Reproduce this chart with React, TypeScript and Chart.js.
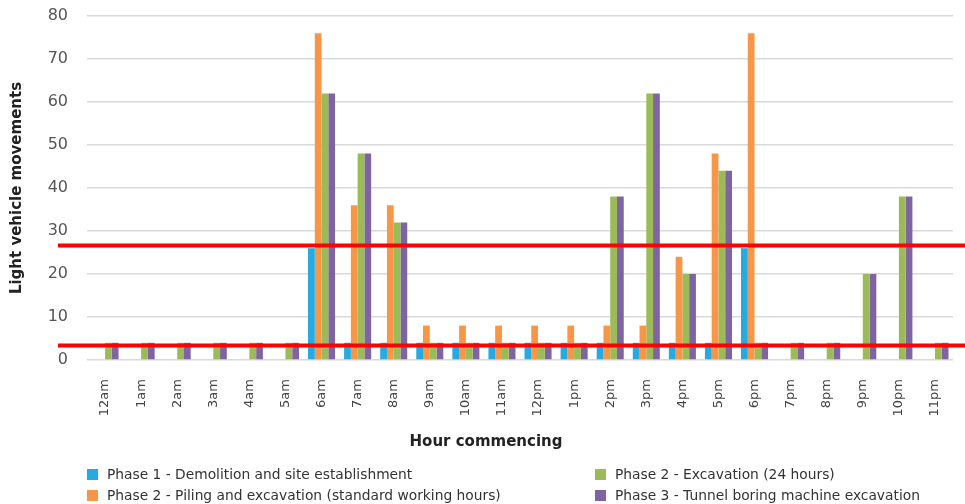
import React, { useEffect, useRef } from "react";
import { Chart, registerables } from "chart.js";

Chart.register(...registerables);

const HOURS = [
  "12am", "1am", "2am", "3am", "4am", "5am", "6am", "7am", "8am", "9am", "10am", "11am",
  "12pm", "1pm", "2pm", "3pm", "4pm", "5pm", "6pm", "7pm", "8pm", "9pm", "10pm", "11pm",
];

const PHASE1_DEMOLITION = [0, 0, 0, 0, 0, 0, 26, 4, 4, 4, 4, 4, 4, 4, 4, 4, 4, 4, 26, 0, 0, 0, 0, 0];
const PHASE2_PILING = [0, 0, 0, 0, 0, 0, 76, 36, 36, 8, 8, 8, 8, 8, 8, 8, 24, 48, 76, 0, 0, 0, 0, 0];
const PHASE2_EXCAVATION = [4, 4, 4, 4, 4, 4, 62, 48, 32, 4, 4, 4, 4, 4, 38, 62, 20, 44, 4, 4, 4, 20, 38, 4];
const PHASE3_TBM = [4, 4, 4, 4, 4, 4, 62, 48, 32, 4, 4, 4, 4, 4, 38, 62, 20, 44, 4, 4, 4, 20, 38, 4];

const SERIES_LABELS = [
  "Phase 1 - Demolition and site establishment",
  "Phase 2 - Piling and excavation (standard working hours)",
  "Phase 2 - Excavation (24 hours)",
  "Phase 3 - Tunnel boring machine excavation",
];
const SERIES_COLORS = ["#25aae1", "#f79646", "#9bbb59", "#8064a2"];

const Y_TICKS_MIN = 0;
const Y_TICKS_MAX = 80;
const Y_STEP = 10;

// red horizontal marker lines (data values)
const RED_LINE_VALUES = [26.6, 3.4];

const FONT = "'DejaVu Sans', sans-serif";

const redLinesPlugin = {
  id: "redLines",
  afterDatasetsDraw(chart: any) {
    const { ctx } = chart;
    const y = chart.scales.y;
    ctx.save();
    ctx.strokeStyle = "#ff0000";
    ctx.lineWidth = 4;
    for (const v of RED_LINE_VALUES) {
      const py = y.getPixelForValue(v);
      ctx.beginPath();
      ctx.moveTo(58, py);
      ctx.lineTo(chart.width, py);
      ctx.stroke();
    }
    ctx.restore();
  },
};

const LEGEND_ORDER = [
  { idx: 0, left: 87, top: 466 },
  { idx: 1, left: 87, top: 487 },
  { idx: 2, left: 595, top: 466 },
  { idx: 3, left: 595, top: 487 },
];

export default function App() {
  const canvasRef = useRef<HTMLCanvasElement | null>(null);

  useEffect(() => {
    if (!canvasRef.current) return;
    const seriesData = [PHASE1_DEMOLITION, PHASE2_PILING, PHASE2_EXCAVATION, PHASE3_TBM];
    const chart = new Chart(canvasRef.current, {
      type: "bar",
      data: {
        labels: HOURS,
        datasets: seriesData.map((d, i) => ({
          label: SERIES_LABELS[i],
          data: d,
          backgroundColor: SERIES_COLORS[i],
          borderWidth: 0,
          categoryPercentage: 0.75,
          barPercentage: 1,
        })),
      },
      options: {
        animation: false,
        responsive: false,
        devicePixelRatio: 1,
        layout: { padding: { top: 16, right: 12, left: 0, bottom: 0 } },
        plugins: {
          legend: { display: false },
          tooltip: { enabled: false },
        },
        scales: {
          x: {
            grid: { display: false },
            border: { display: false },
            ticks: {
              minRotation: 90,
              maxRotation: 90,
              autoSkip: false,
              padding: 11,
              color: "#444",
              font: { family: FONT, size: 13 },
            },
            afterFit: (s: any) => {
              s.height = 144;
            },
          },
          y: {
            min: Y_TICKS_MIN,
            max: Y_TICKS_MAX,
            ticks: {
              stepSize: Y_STEP,
              padding: 2,
              color: "#555",
              font: { family: FONT, size: 16 },
            },
            grid: {
              color: "#d9d9d9",
              lineWidth: 1.5,
              drawTicks: true,
              tickLength: 17,
              tickColor: "rgba(0,0,0,0)",
            },
            border: { display: false },
            title: {
              display: true,
              text: "Light vehicle movements",
              color: "#222",
              font: { family: FONT, size: 15, weight: "bold" },
              padding: { top: 8, bottom: 0 },
            },
            afterFit: (s: any) => {
              s.width = 87;
            },
          },
        },
      },
      plugins: [redLinesPlugin],
    });
    return () => chart.destroy();
  }, []);

  return (
    <div
      style={{
        position: "fixed",
        left: 0,
        top: 0,
        width: 965,
        height: 504,
        background: "#fff",
        overflow: "hidden",
      }}
    >
      <canvas
        ref={canvasRef}
        width={965}
        height={504}
        style={{ position: "absolute", left: 0, top: 0, width: 965, height: 504 }}
      />
      <div
        style={{
          position: "absolute",
          left: 0,
          width: 972,
          top: 432,
          textAlign: "center",
          fontFamily: FONT,
          fontWeight: "bold",
          fontSize: 15,
          lineHeight: "18px",
          color: "#222",
        }}
      >
        Hour commencing
      </div>
      {LEGEND_ORDER.map((item) => (
        <div
          key={item.idx}
          style={{
            position: "absolute",
            left: item.left,
            top: item.top,
            height: 16,
            display: "flex",
            alignItems: "center",
            fontFamily: FONT,
            fontSize: 13.8,
            lineHeight: "16px",
            color: "#333",
            whiteSpace: "nowrap",
          }}
        >
          <span
            style={{
              display: "inline-block",
              width: 11,
              height: 11,
              background: SERIES_COLORS[item.idx],
              marginRight: 9,
            }}
          />
          <span>{SERIES_LABELS[item.idx]}</span>
        </div>
      ))}
    </div>
  );
}
